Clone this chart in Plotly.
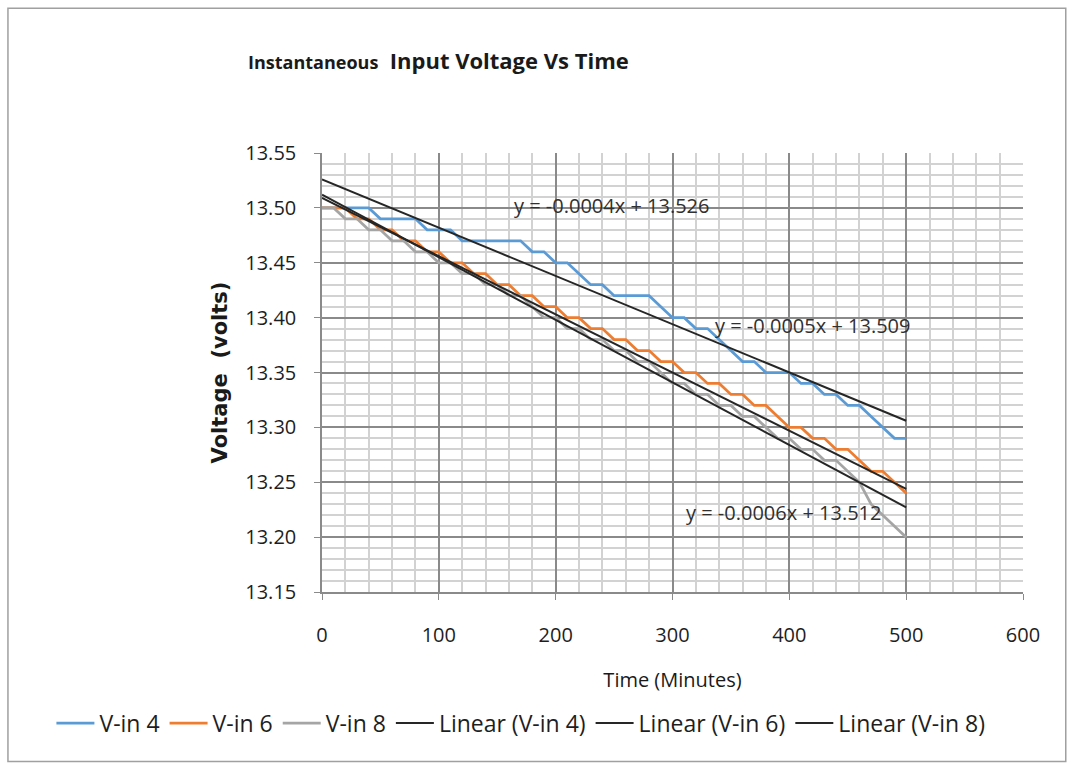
import plotly.graph_objects as go

# Sample times (minutes) for the three voltage logs
time_min = [0, 10, 20, 30, 40, 50, 60, 70, 80, 90,
            100, 110, 120, 130, 140, 150, 160, 170, 180, 190,
            200, 210, 220, 230, 240, 250, 260, 270, 280, 290,
            300, 310, 320, 330, 340, 350, 360, 370, 380, 390,
            400, 410, 420, 430, 440, 450, 460, 470, 480, 490, 500]

v_in_4 = [13.50, 13.50, 13.50, 13.50, 13.50, 13.49, 13.49, 13.49, 13.49, 13.48,
          13.48, 13.48, 13.47, 13.47, 13.47, 13.47, 13.47, 13.47, 13.46, 13.46,
          13.45, 13.45, 13.44, 13.43, 13.43, 13.42, 13.42, 13.42, 13.42, 13.41,
          13.40, 13.40, 13.39, 13.39, 13.38, 13.37, 13.36, 13.36, 13.35, 13.35,
          13.35, 13.34, 13.34, 13.33, 13.33, 13.32, 13.32, 13.31, 13.30, 13.29, 13.29]

v_in_6 = [13.50, 13.50, 13.50, 13.49, 13.49, 13.48, 13.48, 13.47, 13.47, 13.46,
          13.46, 13.45, 13.45, 13.44, 13.44, 13.43, 13.43, 13.42, 13.42, 13.41,
          13.41, 13.40, 13.40, 13.39, 13.39, 13.38, 13.38, 13.37, 13.37, 13.36,
          13.36, 13.35, 13.35, 13.34, 13.34, 13.33, 13.33, 13.32, 13.32, 13.31,
          13.30, 13.30, 13.29, 13.29, 13.28, 13.28, 13.27, 13.26, 13.26, 13.25, 13.24]

v_in_8 = [13.50, 13.50, 13.49, 13.49, 13.48, 13.48, 13.47, 13.47, 13.46, 13.46,
          13.45, 13.45, 13.44, 13.44, 13.43, 13.43, 13.42, 13.42, 13.41, 13.40,
          13.40, 13.39, 13.39, 13.38, 13.38, 13.37, 13.37, 13.36, 13.36, 13.35,
          13.34, 13.34, 13.33, 13.33, 13.32, 13.32, 13.31, 13.31, 13.30, 13.29,
          13.29, 13.28, 13.28, 13.27, 13.27, 13.26, 13.25, 13.23, 13.22, 13.21, 13.20]

series_names = ["V-in 4", "V-in 6", "V-in 8"]
series_colors = ["#5B9BD5", "#ED7D31", "#A5A5A5"]

# Linear trend coefficients (slope per minute, intercept in volts)
trend_slopes = [-0.00044, -0.00053, -0.00057]
trend_intercepts = [13.526, 13.509, 13.512]
trend_span = [0, 500]

# Where each trend equation is written (time, voltage)
eq_pos_x = [248, 420, 395]
eq_pos_y = [13.502, 13.393, 13.222]

y_ticks = [13.15, 13.20, 13.25, 13.30, 13.35, 13.40, 13.45, 13.50, 13.55]
x_ticks = [0, 100, 200, 300, 400, 500, 600]

LABEL_FONT = "Open Sans"
TEXT_COLOR = "#1e1e1e"

fig = go.Figure()

for name, color, vals in zip(series_names, series_colors, [v_in_4, v_in_6, v_in_8]):
    fig.add_trace(go.Scatter(x=time_min, y=vals, mode="lines", name=name,
                             line=dict(color=color, width=2.75)))

for name, m, b in zip(series_names, trend_slopes, trend_intercepts):
    fig.add_trace(go.Scatter(x=trend_span, y=[b + m * t for t in trend_span],
                             mode="lines", name=f"Linear ({name})",
                             line=dict(color="#262626", width=2)))

for m, b, ex, ey in zip(trend_slopes, trend_intercepts, eq_pos_x, eq_pos_y):
    fig.add_annotation(x=ex, y=ey, xref="x", yref="y", showarrow=False,
                       text=f"y = {m:.4f}x + {b:.3f}",
                       font=dict(family=LABEL_FONT, size=20, color="#303030"))

fig.add_annotation(xref="paper", yref="paper", x=-0.108, y=1.212,
                   xanchor="left", yanchor="middle", showarrow=False,
                   text="<b><span style='font-size:18px'>Instantaneous</span>  Input Voltage Vs Time</b>",
                   font=dict(family=LABEL_FONT, size=22, color="#1a1a1a"))

# chart frame
fig.add_shape(type="rect", xref="paper", yref="paper",
              x0=-0.448, x1=1.061, y0=-0.386, y1=1.33,
              line=dict(color="#a0a0a0", width=1.5), fillcolor="rgba(0,0,0,0)")

fig.update_layout(
    width=1072, height=769,
    margin=dict(l=322, r=49, t=153, b=177),
    paper_bgcolor="white", plot_bgcolor="white",
    font=dict(family=LABEL_FONT, color=TEXT_COLOR),
    showlegend=True,
    legend=dict(orientation="h", x=-0.386, y=-0.2986, xanchor="left", yanchor="middle",
                font=dict(family=LABEL_FONT, size=23, color=TEXT_COLOR),
                itemwidth=38, tracegroupgap=0, bgcolor="rgba(0,0,0,0)"),
    xaxis=dict(range=[0, 600], tickvals=x_ticks, showgrid=True,
               gridcolor="#8a8a8a", gridwidth=1.5, zeroline=False,
               showline=True, linecolor="#8a8a8a", linewidth=1.5,
               ticks="outside", ticklen=6, tickcolor="#8a8a8a",
               ticklabelstandoff=18,
               tickfont=dict(family=LABEL_FONT, size=20, color=TEXT_COLOR),
               minor=dict(dtick=20, showgrid=True, gridcolor="#d2d2d2", gridwidth=2),
               title=dict(text="Time (Minutes)", standoff=26,
                          font=dict(family=LABEL_FONT, size=20, color="#1a1a1a"))),
    yaxis=dict(range=[13.15, 13.55], tickvals=y_ticks, tickformat=".2f", showgrid=True,
               gridcolor="#8a8a8a", gridwidth=1.5, zeroline=False,
               showline=True, linecolor="#8a8a8a", linewidth=1.5,
               ticks="outside", ticklen=6, tickcolor="#8a8a8a",
               ticklabelstandoff=14,
               tickfont=dict(family=LABEL_FONT, size=20, color=TEXT_COLOR),
               minor=dict(dtick=0.01, showgrid=True, gridcolor="#d2d2d2", gridwidth=2),
               title=dict(text="<b>Voltage  (volts)</b>", standoff=12,
                          font=dict(family="DejaVu Sans", size=21, color="#1a1a1a"))),
)

fig.write_html("out.html")
